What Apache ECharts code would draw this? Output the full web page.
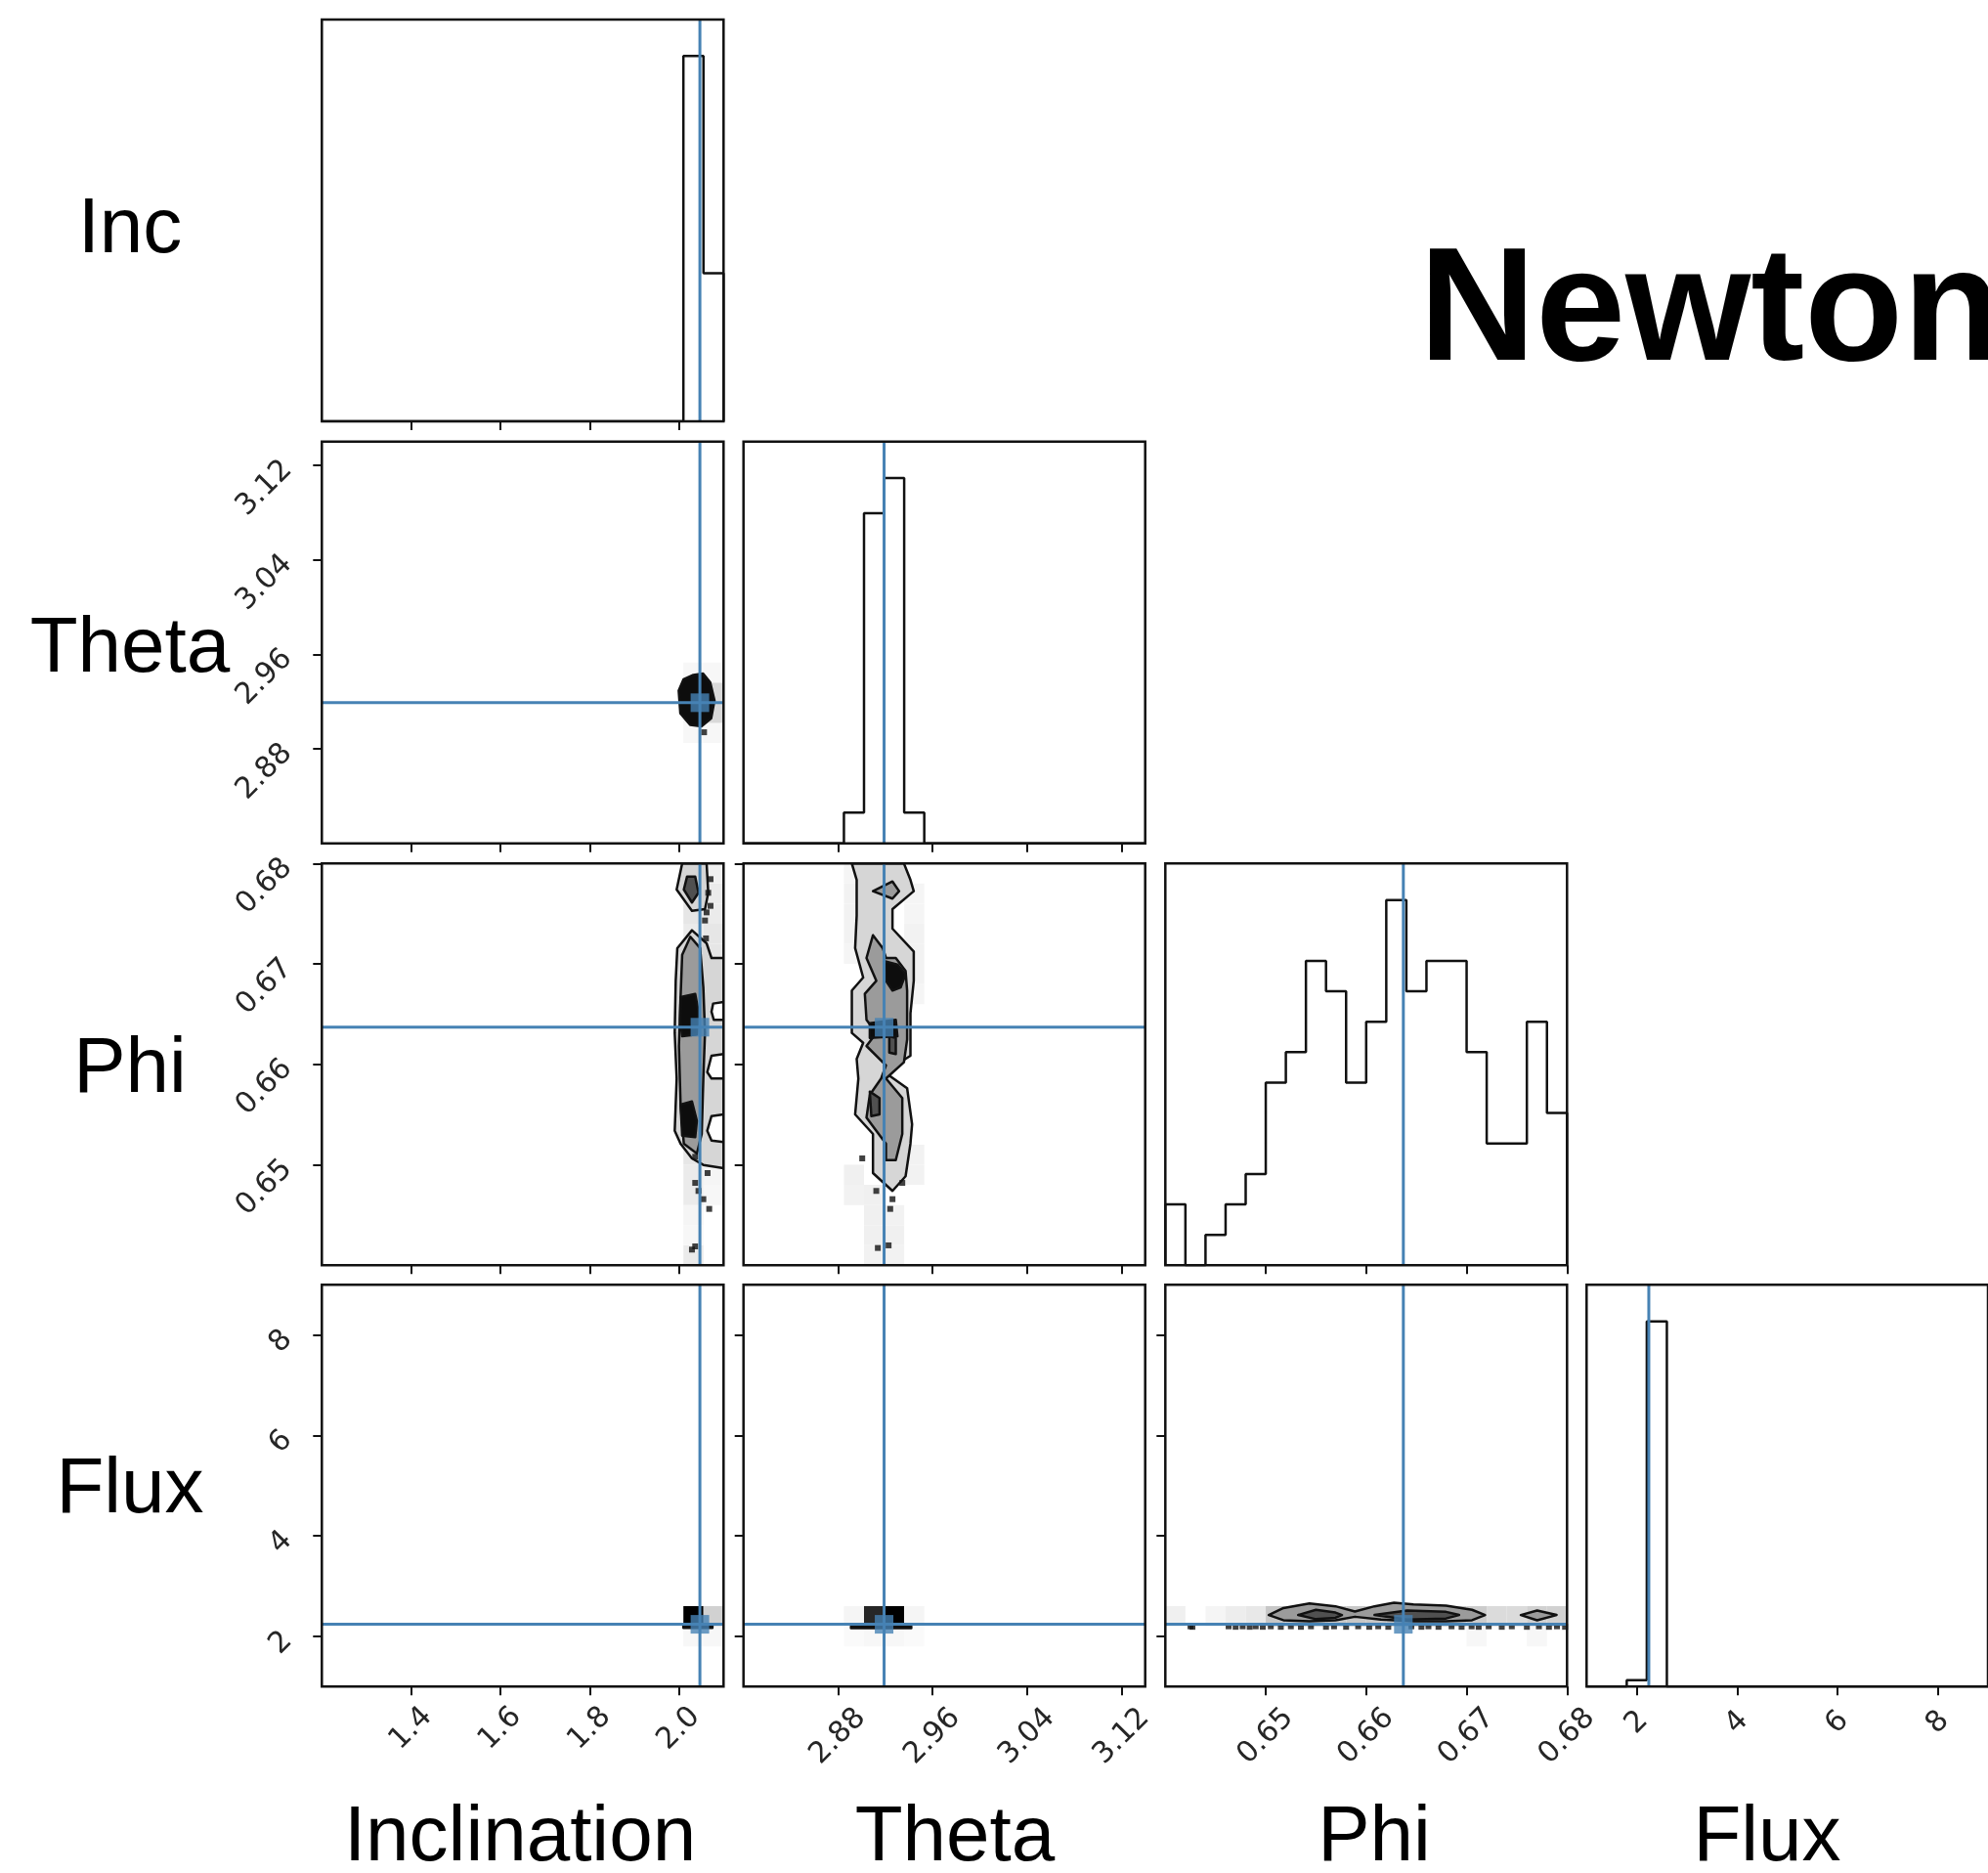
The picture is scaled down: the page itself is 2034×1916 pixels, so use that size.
<!DOCTYPE html>
<html>
<head>
<meta charset="utf-8">
<script src="https://cdn.jsdelivr.net/npm/echarts@6/dist/echarts.min.js"></script>
<style>
  html, body { margin: 0; padding: 0; background: #ffffff; }
  #chart { width: 2034px; height: 1916px; }
</style>
</head>
<body>
<div id="chart"></div>
<script>
// ---- parameters of the corner plot ----
const rowNames = ['Inc', 'Theta', 'Phi', 'Flux'];
const colTitles = ['Inclination', 'Theta', 'Phi', 'Flux'];
const ranges = [[1.2, 2.1], [2.8, 3.14], [0.64, 0.68], [1, 9]];
const tickValues = [[1.4, 1.6, 1.8, 2.0], [2.88, 2.96, 3.04, 3.12], [0.65, 0.66, 0.67, 0.68], [2, 4, 6, 8]];
const tickLabels = [['1.4', '1.6', '1.8', '2.0'], ['2.88', '2.96', '3.04', '3.12'], ['0.65', '0.66', '0.67', '0.68'], ['2', '4', '6', '8']];
const truths = [2.047, 2.919, 0.6637, 2.24];
const NBINS = 20;

// ---- 1-D marginal histograms (20 bins over each range) ----
const incCounts   = [0,0,0,0,0,0,0,0,0,0,0,0,0,0,0,0,0,0,74,30];
const thetaCounts = [0,0,0,0,0,7,75,83,7,0,0,0,0,0,0,0,0,0,0,0];
const phiCounts   = [2,0,1,2,3,6,7,10,9,6,8,12,9,10,10,7,4,4,8,5];
const fluxCounts  = [0,0,2,115,0,0,0,0,0,0,0,0,0,0,0,0,0,0,0,0];

// ---- 2-D density cells: [xBin, yBin, density 0..1] ----
const thetaIncCells = [[18,5,0.03],[18,6,0.05],[18,7,0.05],[18,8,0.03],[19,5,0.03],[19,6,0.15],[19,7,0.15],[19,8,0.03]];
const phiIncCells = [[18,0,0.08],[18,1,0.03],[18,2,0.04],[18,3,0.08],[18,4,0.08],[18,5,0.1],[18,16,0.08],[18,17,0.1],[18,18,0.1],[18,19,0.1],
  [19,3,0.03],[19,4,0.04],[19,15,0.1],[19,16,0.1],[19,17,0.08],[19,18,0.08],[19,19,0.06]];
const phiThetaCells = [[5,3,0.05],[5,4,0.06],[5,15,0.04],[5,16,0.05],[5,17,0.05],[5,18,0.05],[5,19,0.04],
  [6,0,0.05],[6,1,0.06],[6,2,0.06],[6,3,0.06],[7,0,0.05],[7,1,0.06],[7,2,0.05],
  [8,4,0.05],[8,5,0.05],[8,13,0.04],[8,14,0.05],[8,15,0.05],[8,16,0.05],[8,17,0.04],[8,18,0.04]];
const fluxIncCells = [[18,3,1.0],[19,3,0.18],[18,2,0.03],[19,2,0.03]];
const fluxThetaCells = [[6,3,0.85],[7,3,1.0],[5,3,0.04],[8,3,0.04],[5,2,0.02],[6,2,0.03],[7,2,0.03],[8,2,0.02]];
const fluxPhiCells = [[0,3,0.06],[2,3,0.04],[3,3,0.07],[4,3,0.09],[5,3,0.22],[6,3,0.22],[7,3,0.22],[8,3,0.22],[9,3,0.22],
  [10,3,0.22],[11,3,0.22],[12,3,0.22],[13,3,0.22],[14,3,0.22],[15,3,0.2],[16,3,0.14],[17,3,0.14],[18,3,0.18],[19,3,0.18],
  [15,2,0.03],[18,2,0.03]];

// ---- contour regions: [level, [[x, y], ...]] ----
const thetaIncContours = [
  [4, [[1.9995,2.9293],[2.0105,2.9389],[2.0323,2.9425],[2.0541,2.9436],[2.0701,2.9362],[2.0797,2.9210],[2.0723,2.9059],[2.0505,2.8990],[2.0251,2.9003],[2.0032,2.9100]]]
];
const phiIncContours = [
  [1, [[2.0292,0.67335],[1.9964,0.67157],[1.9928,0.66832],[1.9906,0.66313],[1.9949,0.65859],[1.9906,0.65339],[2.0037,0.65210],[2.0292,0.65064],[2.0547,0.64999],[2.1,0.64967],[2.1,0.67059],[2.0730,0.67059],[2.0620,0.67205]]],
  [0, [[2.1,0.66621],[2.0766,0.66605],[2.0730,0.66524],[2.0781,0.66443],[2.1,0.66443]]],
  [0, [[2.1,0.66102],[2.0730,0.66086],[2.0635,0.65923],[2.0730,0.65859],[2.1,0.65859]]],
  [0, [[2.1,0.65502],[2.0730,0.65485],[2.0635,0.65339],[2.0730,0.65242],[2.1,0.65226]]],
  [2, [[2.0256,0.67270],[2.0073,0.67091],[2.0037,0.66670],[2.0000,0.66183],[2.0037,0.65599],[2.0110,0.65210],[2.0402,0.65112],[2.0511,0.65307],[2.0547,0.65859],[2.0584,0.66313],[2.0547,0.66767],[2.0475,0.67157]]],
  [4, [[2.0037,0.66670],[2.0365,0.66702],[2.0438,0.66524],[2.0402,0.66297],[2.0073,0.66280],[2.0029,0.66443]]],
  [4, [[2.0037,0.65599],[2.0292,0.65631],[2.0402,0.65437],[2.0365,0.65275],[2.0073,0.65291]]],
  [1, [[2.0073,0.68],[1.9949,0.67740],[2.0292,0.67529],[2.0584,0.67546],[2.0657,0.67708],[2.0620,0.68]]],
  [3, [[2.0183,0.67870],[2.0110,0.67740],[2.0292,0.67611],[2.0438,0.67708],[2.0365,0.67870]]]
];
const phiThetaContours = [
  [1, [[2.8917,0.68],[2.8958,0.67837],[2.8958,0.67481],[2.8945,0.67157],[2.9013,0.66864],[2.8917,0.66735],[2.8917,0.66313],[2.9013,0.66215],[2.8958,0.66054],[2.8972,0.65859],[2.8945,0.65502],[2.9096,0.65307],[2.9096,0.64918],[2.9261,0.64740],[2.9372,0.64886],[2.9413,0.65210],[2.9427,0.65404],[2.9385,0.65762],[2.9193,0.65923],[2.9413,0.66086],[2.9413,0.66507],[2.9441,0.66832],[2.9441,0.67124],[2.9261,0.67351],[2.9261,0.67546],[2.9441,0.67724],[2.9413,0.67837],[2.9358,0.68]]],
  [2, [[2.9096,0.67286],[2.9041,0.67059],[2.9124,0.66832],[2.9027,0.66702],[2.9041,0.66443],[2.9124,0.66313],[2.9041,0.66183],[2.9206,0.65989],[2.9165,0.65859],[2.9069,0.65696],[2.9041,0.65470],[2.9124,0.65339],[2.9206,0.65210],[2.9206,0.65047],[2.9289,0.65047],[2.9344,0.65307],[2.9344,0.65664],[2.9206,0.65859],[2.9358,0.66021],[2.9385,0.66248],[2.9385,0.66735],[2.9372,0.66929],[2.9289,0.67059],[2.9206,0.67059],[2.9179,0.67157]]],
  [4, [[2.9193,0.67027],[2.9303,0.66994],[2.9372,0.66897],[2.9330,0.66767],[2.9261,0.66735],[2.9206,0.66832]]],
  [4, [[2.9069,0.66410],[2.9289,0.66443],[2.9303,0.66280],[2.9069,0.66264]]],
  [3, [[2.9234,0.66280],[2.9289,0.66264],[2.9289,0.66102],[2.9234,0.66118]]],
  [3, [[2.9069,0.65729],[2.9151,0.65664],[2.9151,0.65502],[2.9082,0.65485]]],
  [2, [[2.9096,0.67724],[2.9261,0.67821],[2.9317,0.67724],[2.9261,0.67650]]]
];
const fluxIncContours = [
  [4, [[2.01,2.17],[2.075,2.17],[2.075,2.22],[2.01,2.22]]]
];
const fluxThetaContours = [
  [4, [[2.891,2.165],[2.942,2.165],[2.942,2.2],[2.891,2.2]]]
];
const fluxPhiContours = [
  [2, [[0.65030,2.4251],[0.65176,2.5642],[0.65435,2.6545],[0.65694,2.5989],[0.65888,2.4947],[0.66083,2.5989],[0.66277,2.6684],[0.66471,2.6337],[0.66795,2.6129],[0.67054,2.5294],[0.67184,2.4251],[0.67054,2.3209],[0.66795,2.3000],[0.66471,2.3000],[0.66147,2.3347],[0.65888,2.3904],[0.65694,2.3209],[0.65435,2.3000],[0.65176,2.3209]]],
  [3, [[0.65322,2.4251],[0.65500,2.5294],[0.65694,2.4738],[0.65759,2.4251],[0.65694,2.3696],[0.65500,2.3417]]],
  [3, [[0.66083,2.4251],[0.66407,2.5155],[0.66795,2.4877],[0.66925,2.4251],[0.66795,2.3556],[0.66407,2.3347]]],
  [2, [[0.67540,2.4251],[0.67702,2.5155],[0.67896,2.4251],[0.67702,2.3209]]]
];

// ---- samples outside the contours ----
const thetaIncPoints = [[2.0563, 2.894]];
const phiIncPoints = [[2.0708,0.67844],[2.0657,0.67708],[2.0708,0.67578],[2.0620,0.67513],[2.0584,0.67432],[2.0606,0.67254],
  [2.0365,0.65080],[2.0642,0.64918],[2.0365,0.64820],[2.0438,0.64740],[2.0547,0.64658],[2.0679,0.64561],[2.0365,0.64188],[2.0292,0.64156]];
const phiThetaPoints = [[2.9005,0.65064],[2.9124,0.64740],[2.9261,0.64658],[2.9344,0.64820],[2.9242,0.64561],[2.9137,0.64172],[2.9228,0.64198]];
const fluxPhiPoints = [[0.6425,2.20],[0.6427,2.19],[0.6463,2.20],[0.6470,2.19],[0.6477,2.20],[0.6484,2.19],[0.6490,2.20],[0.6497,2.19],
  [0.6505,2.20],[0.6515,2.19],[0.6525,2.20],[0.6535,2.19],[0.6545,2.20],[0.6560,2.19],[0.6568,2.20],[0.6580,2.19],[0.6592,2.20],
  [0.6603,2.19],[0.6612,2.20],[0.6622,2.19],[0.6645,2.20],[0.6655,2.19],[0.6662,2.20],[0.6672,2.19],[0.6685,2.20],[0.6695,2.19],
  [0.6705,2.20],[0.6712,2.19],[0.6722,2.20],[0.6735,2.19],[0.6745,2.20],[0.6760,2.19],[0.6772,2.20],[0.6782,2.19],[0.6790,2.20],[0.6798,2.19]];

// panel key "row-col" -> data of that 2-D panel
const panels2d = {
  '1-0': { cells: thetaIncCells,  contours: thetaIncContours,  points: thetaIncPoints },
  '2-0': { cells: phiIncCells,    contours: phiIncContours,    points: phiIncPoints },
  '2-1': { cells: phiThetaCells,  contours: phiThetaContours,  points: phiThetaPoints },
  '3-0': { cells: fluxIncCells,   contours: fluxIncContours,   points: [] },
  '3-1': { cells: fluxThetaCells, contours: fluxThetaContours, points: [] },
  '3-2': { cells: fluxPhiCells,   contours: fluxPhiContours,   points: fluxPhiPoints }
};
const histCounts = [incCounts, thetaCounts, phiCounts, fluxCounts];

// ---- layout / styling ----
const GRID_LEFT = [329.3, 760.7, 1192.3, 1623.3];
const GRID_TOP = [20, 451.7, 883.3, 1314.3];
const GRID_SIZE = 411;
const INK = '#111111';
const TRUTH = '#4682b4';
const levelFill = ['#ffffff', '#d6d6d6', '#9b9b9b', '#505050', '#0d0d0d'];
const xLabelMargin = [43, 51, 51, 37];
const TICK_FONT = { fontFamily: 'DejaVu Sans', fontSize: 30, color: '#262626' };

function labelFor(col) {
  return function (v) {
    const k = tickValues[col].findIndex(t => Math.abs(t - v) < 1e-9);
    return k >= 0 ? tickLabels[col][k] : '';
  };
}
function greyOf(d) {
  const g = Math.round(255 * (1 - d));
  return 'rgb(' + g + ',' + g + ',' + g + ')';
}
function stepData(range, counts) {
  const w = (range[1] - range[0]) / counts.length;
  const pts = [[range[0], 0]];
  counts.forEach((c, k) => pts.push([range[0] + k * w, c]));
  pts.push([range[1], counts[counts.length - 1]]);
  pts.push([range[1], 0]);
  return pts;
}

const grids = [], xAxes = [], yAxes = [], series = [];
let gi = 0;
for (let i = 0; i < 4; i++) {
  for (let j = 0; j <= i; j++) {
    const diag = i === j;
    grids.push({
      left: GRID_LEFT[j], top: GRID_TOP[i], width: GRID_SIZE, height: GRID_SIZE,
      show: true, borderColor: INK, borderWidth: 2.5, backgroundColor: 'transparent', z: 10
    });
    xAxes.push({
      gridIndex: gi, type: 'value', min: ranges[j][0], max: ranges[j][1],
      axisLine: { show: false }, splitLine: { show: false },
      axisTick: { show: true, length: 9, lineStyle: { color: INK, width: 2 }, customValues: tickValues[j] },
      axisLabel: i === 3 ? Object.assign({
        show: true, rotate: 45, align: 'center', verticalAlign: 'middle',
        margin: xLabelMargin[j], customValues: tickValues[j], formatter: labelFor(j)
      }, TICK_FONT) : { show: false }
    });
    const yMax = diag ? 1.1 * Math.max.apply(null, histCounts[j]) : ranges[i][1];
    const yMin = diag ? 0 : ranges[i][0];
    yAxes.push(diag ? {
      gridIndex: gi, type: 'value', min: 0, max: yMax,
      axisLine: { show: false }, splitLine: { show: false }, axisTick: { show: false }, axisLabel: { show: false }
    } : {
      gridIndex: gi, type: 'value', min: ranges[i][0], max: ranges[i][1],
      axisLine: { show: false }, splitLine: { show: false },
      axisTick: { show: true, length: 9, lineStyle: { color: INK, width: 2 }, customValues: tickValues[i] },
      axisLabel: j === 0 ? Object.assign({
        show: true, rotate: 45, align: 'right', verticalAlign: 'middle',
        margin: 35, customValues: tickValues[i], formatter: labelFor(i)
      }, TICK_FONT) : { show: false }
    });

    if (diag) {
      series.push({
        type: 'line', xAxisIndex: gi, yAxisIndex: gi, data: stepData(ranges[j], histCounts[j]),
        step: 'end', symbol: 'none', lineStyle: { color: INK, width: 2.5 }, z: 4, clip: true
      });
    } else {
      const p = panels2d[i + '-' + j];
      const xr = ranges[j], yr = ranges[i];
      const wx = (xr[1] - xr[0]) / NBINS, wy = (yr[1] - yr[0]) / NBINS;
      const cells = p.cells;
      series.push({
        type: 'custom', xAxisIndex: gi, yAxisIndex: gi, z: 2, clip: true,
        data: cells.map(c => [xr[0] + (c[0] + 0.5) * wx, yr[0] + (c[1] + 0.5) * wy, c[2]]),
        renderItem: function (params, api) {
          const c = cells[params.dataIndex];
          const a = api.coord([xr[0] + c[0] * wx, yr[0] + (c[1] + 1) * wy]);
          const b = api.coord([xr[0] + (c[0] + 1) * wx, yr[0] + c[1] * wy]);
          return { type: 'rect', shape: { x: a[0], y: a[1], width: b[0] - a[0], height: b[1] - a[1] },
                   style: { fill: greyOf(c[2]) } };
        }
      });
      const polys = p.contours;
      series.push({
        type: 'custom', xAxisIndex: gi, yAxisIndex: gi, z: 3, clip: true,
        data: polys.map(q => q[1][0]),
        renderItem: function (params, api) {
          const q = polys[params.dataIndex];
          return { type: 'polygon', shape: { points: q[1].map(pt => api.coord(pt)) },
                   style: { fill: levelFill[q[0]], stroke: INK, lineWidth: 2.5, lineJoin: 'round' } };
        }
      });
      if (p.points.length) {
        series.push({
          type: 'scatter', xAxisIndex: gi, yAxisIndex: gi, data: p.points, symbol: 'rect',
          symbolSize: 6, itemStyle: { color: INK }, z: 4
        });
      }
      // horizontal truth line + truth marker
      series.push({
        type: 'line', xAxisIndex: gi, yAxisIndex: gi, data: [[xr[0], truths[i]], [xr[1], truths[i]]],
        symbol: 'none', lineStyle: { color: TRUTH, width: 3 }, z: 6
      });
      series.push({
        type: 'scatter', xAxisIndex: gi, yAxisIndex: gi, data: [[truths[j], truths[i]]],
        symbol: 'rect', symbolSize: 19, itemStyle: { color: TRUTH }, z: 7
      });
    }
    // vertical truth line
    series.push({
      type: 'line', xAxisIndex: gi, yAxisIndex: gi, data: [[truths[j], yMin], [truths[j], yMax]],
      symbol: 'none', lineStyle: { color: TRUTH, width: 3 }, z: 6
    });
    gi++;
  }
}

// ---- text ----
const LABEL_FONT = 'Liberation Sans';
const graphics = [];
const rowLabelY = [236, 665, 1095, 1525];
rowNames.forEach((name, k) => graphics.push({
  type: 'text', x: 133, y: rowLabelY[k],
  style: { text: name, fontFamily: LABEL_FONT, fontSize: 80, fill: '#000',
           align: 'center', verticalAlign: 'middle', textAlign: 'center', textVerticalAlign: 'middle' }
}));
const colLabelX = [532, 977, 1406, 1808];
colTitles.forEach((name, k) => graphics.push({
  type: 'text', x: colLabelX[k], y: 1881,
  style: { text: name, fontFamily: LABEL_FONT, fontSize: 80, fill: '#000',
           align: 'center', verticalAlign: 'middle', textAlign: 'center', textVerticalAlign: 'middle' }
}));
graphics.push({
  type: 'text', x: 1452, y: 322,
  style: { text: 'Newton', fontFamily: LABEL_FONT, fontWeight: 'bold', fontSize: 165, fill: '#000',
           align: 'left', verticalAlign: 'middle', textAlign: 'left', textVerticalAlign: 'middle' }
});

const chart = echarts.init(document.getElementById('chart'), null, { renderer: 'canvas' });
chart.setOption({
  animation: false,
  backgroundColor: '#ffffff',
  grid: grids,
  xAxis: xAxes,
  yAxis: yAxes,
  series: series,
  graphic: graphics
});
</script>
</body>
</html>
